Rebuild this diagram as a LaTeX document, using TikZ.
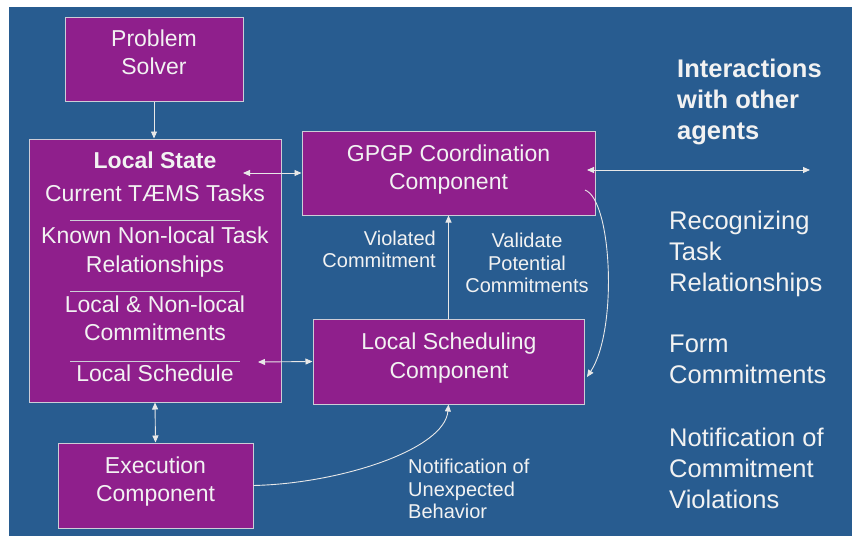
\documentclass[tikz,border=0pt]{standalone}
\usepackage{fontspec}
\setmainfont{Liberation Sans}
\usetikzlibrary{arrows.meta}

\definecolor{slideblue}{RGB}{40,92,144}
\definecolor{boxpurple}{RGB}{143,31,140}
\definecolor{boxline}{RGB}{205,205,215}
\definecolor{linkgray}{RGB}{232,232,232}
\definecolor{textwhite}{RGB}{242,242,242}

\begin{document}
\begin{tikzpicture}[x=1pt,y=-1pt,>={Triangle[length=7pt,width=6pt]}]

  \tikzstyle{comp}=[draw=boxline,fill=boxpurple,line width=1pt,inner sep=0pt]
  \tikzstyle{comptext}=[text=textwhite,align=center,inner sep=0pt,anchor=base,yshift=-1.5pt,font=\fontsize{23}{28.5}\selectfont]
  \tikzstyle{link}=[draw=linkgray,line width=0.9pt]
  \tikzstyle{note}=[text=textwhite,inner sep=0pt,yshift=-1pt,font=\fontsize{20}{22.5}\selectfont]
  \tikzstyle{side}=[text=textwhite,align=left,inner sep=0pt,anchor=base west,yshift=-1.5pt,font=\fontsize{25.5}{31}\selectfont]

  \useasboundingbox (0,0) rectangle (852,536);
  \fill[white] (0,0) rectangle (852,536);
  \fill[slideblue] (9,7) rectangle (852,536);

  % components
  \node[comp,minimum width=178pt,minimum height=84pt]  (solver) at (154,59)    {};
  \node[comp,minimum width=252pt,minimum height=263pt] (state)  at (155,270.5) {};
  \node[comp,minimum width=195pt,minimum height=85pt]  (exec)   at (155.5,485.5) {};
  \node[comp,minimum width=293pt,minimum height=84pt]  (gpgp)   at (448.5,173) {};
  \node[comp,minimum width=271pt,minimum height=85pt]  (sched)  at (448.5,361.5) {};

  % text sits on the baseline of its last line
  \node[comptext] (solvertxt) at (154,73.3)  {Problem\\Solver};
  \node[comptext] (exectxt)   at (155.5,500) {Execution\\Component};
  \node[comptext] (gpgptxt)   at (448.5,188) {GPGP Coordination\\Component};
  \node[comptext] (schedtxt)  at (449,376.7) {Local Scheduling\\Component};

  % local state contents
  \node[comptext,font=\bfseries\fontsize{23}{28.5}\selectfont] (statehead) at (155,166.5) {Local State};
  \node[comptext] (tasks)   at (155,200)   {Current TÆMS Tasks};
  \node[comptext] (nlrels)  at (155,270.7) {Known Non-local Task\\Relationships};
  \node[comptext] (commits) at (155,339)   {Local \& Non-local\\Commitments};
  \node[comptext] (lsched)  at (155,380)   {Local Schedule};
  \foreach \y in {220,291,361}
    \draw[boxline,line width=0.8pt] (70,\y) -- (240,\y);

  % free ends
  \coordinate (stateA) at (243,173);
  \coordinate (stateB) at (258,362);
  \coordinate (gpgpA)  at (587,170);
  \coordinate (others) at (810,170);
  \coordinate (gpgpB)  at (585,190);
  \coordinate (schedB) at (587,377);

  % links
  \draw[link,->]  (solver.south) -- (solver.south |- state.north);
  \draw[link,<->] (stateA) -- (gpgp.west);
  \draw[link,<->] (stateB) -- (sched.west);
  \draw[link,<->] (state.south) -- (exec.north);
  \draw[link,->]  (sched.north) -- (gpgp.south);
  \draw[link,<->] (gpgpA) -- (others);
  \draw[link,->]  (gpgpB) .. controls (612,200) and (618,330) .. (schedB);
  \draw[link,->]  (exec.east) .. controls +(87,-2) and +(-4,45) .. (sched.south);

  % link labels
  \node[note,align=right,anchor=base east] (violated) at (436,266.7) {Violated\\Commitment};
  \node[note,align=center,anchor=base]     (validate) at (527,291.7) {Validate\\Potential\\Commitments};
  \node[note,align=left,anchor=base west]  (unexpect) at (408,517.7) {Notification of\\Unexpected\\Behavior};

  % interactions column
  \node[side,font=\bfseries\fontsize{25.5}{31}\selectfont] (interact) at (677,138.3) {Interactions\\with other\\agents};
  \node[side] (recog)  at (669,290)   {Recognizing\\Task\\Relationships};
  \node[side] (form)   at (669,382.3) {Form\\Commitments};
  \node[side] (notify) at (669,507)   {Notification of\\Commitment\\Violations};

\end{tikzpicture}
\end{document}
